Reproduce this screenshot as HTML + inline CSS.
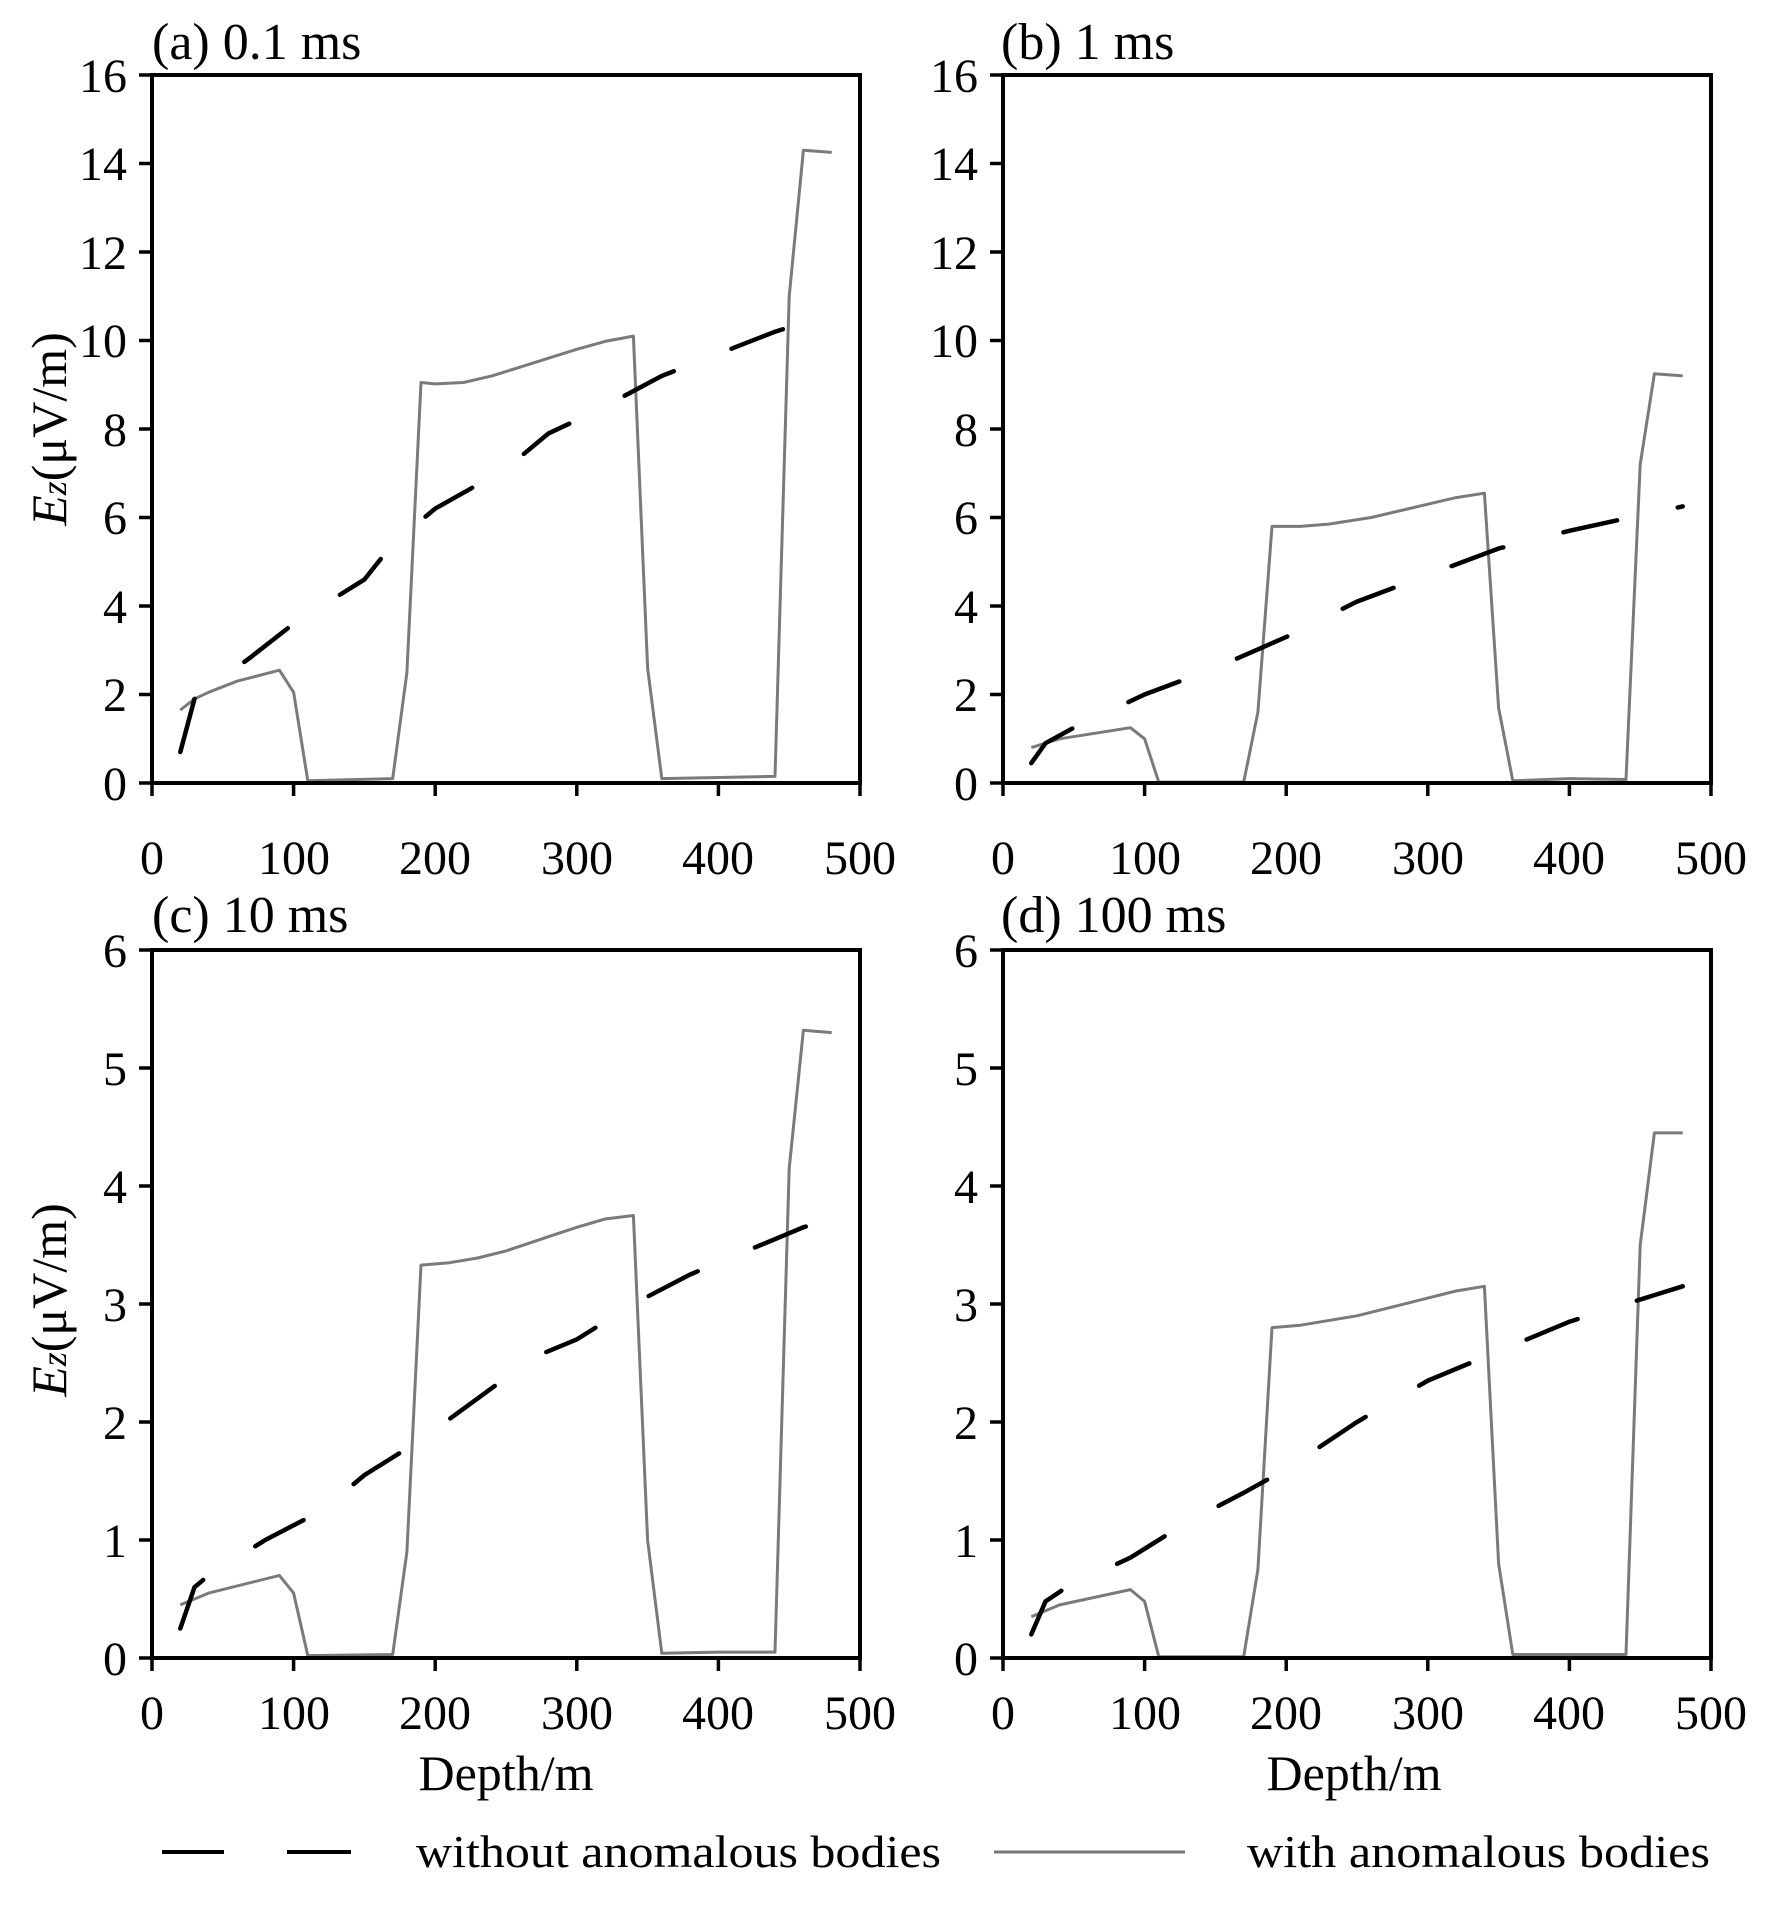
<!DOCTYPE html>
<html><head><meta charset="utf-8"><style>
html,body{margin:0;padding:0;background:#fff;}
svg{display:block;}
text{font-family:"Liberation Serif",serif;fill:#000;}
</style></head><body>
<svg id="s" width="1768" height="1910" viewBox="0 0 1768 1910" xmlns="http://www.w3.org/2000/svg">
<g font-size="52">
<text x="152" y="59">(a) 0.1 ms</text>
<text x="1001" y="59">(b) 1 ms</text>
<text x="152" y="932">(c) 10 ms</text>
<text x="1001" y="932">(d) 100 ms</text>
</g>
<g font-size="48" text-anchor="end">
<text x="127" y="800">0</text><text x="127" y="711">2</text><text x="127" y="623">4</text><text x="127" y="534">6</text><text x="127" y="446">8</text><text x="127" y="357">10</text><text x="127" y="269">12</text><text x="127" y="180">14</text><text x="127" y="92">16</text>
<text x="978" y="800">0</text><text x="978" y="711">2</text><text x="978" y="623">4</text><text x="978" y="534">6</text><text x="978" y="446">8</text><text x="978" y="357">10</text><text x="978" y="269">12</text><text x="978" y="180">14</text><text x="978" y="92">16</text>
<text x="127" y="1675">0</text><text x="127" y="1557">1</text><text x="127" y="1439">2</text><text x="127" y="1321">3</text><text x="127" y="1203">4</text><text x="127" y="1085">5</text><text x="127" y="967">6</text>
<text x="978" y="1675">0</text><text x="978" y="1557">1</text><text x="978" y="1439">2</text><text x="978" y="1321">3</text><text x="978" y="1203">4</text><text x="978" y="1085">5</text><text x="978" y="967">6</text>
</g>
<g font-size="48" text-anchor="middle">
<text x="152" y="874">0</text><text x="294" y="874">100</text><text x="435" y="874">200</text><text x="577" y="874">300</text><text x="718" y="874">400</text><text x="860" y="874">500</text>
<text x="1003" y="874">0</text><text x="1145" y="874">100</text><text x="1286" y="874">200</text><text x="1428" y="874">300</text><text x="1569" y="874">400</text><text x="1711" y="874">500</text>
<text x="152" y="1729">0</text><text x="294" y="1729">100</text><text x="435" y="1729">200</text><text x="577" y="1729">300</text><text x="718" y="1729">400</text><text x="860" y="1729">500</text>
<text x="1003" y="1729">0</text><text x="1145" y="1729">100</text><text x="1286" y="1729">200</text><text x="1428" y="1729">300</text><text x="1569" y="1729">400</text><text x="1711" y="1729">500</text>
</g>
<g font-size="50" text-anchor="middle">
<text x="506" y="1790">Depth/m</text>
<text x="1354" y="1790">Depth/m</text>
<text transform="translate(66,429) rotate(-90)"><tspan font-style="italic">E</tspan><tspan font-style="italic" font-size="36">z</tspan>(μV/m)</text>
<text transform="translate(66,1300) rotate(-90)"><tspan font-style="italic">E</tspan><tspan font-style="italic" font-size="36">z</tspan>(μV/m)</text>
</g>
<g font-size="46">
<text x="416" y="1867" textLength="525" lengthAdjust="spacingAndGlyphs">without anomalous bodies</text>
<text x="1247" y="1867" textLength="463" lengthAdjust="spacingAndGlyphs">with anomalous bodies</text>
</g>
<line x1="162" y1="1852" x2="224" y2="1852" stroke="#000" stroke-width="4"/>
<line x1="287" y1="1852" x2="351" y2="1852" stroke="#000" stroke-width="4"/>
<line x1="994" y1="1852" x2="1185" y2="1852" stroke="#777" stroke-width="3"/>
<g id="plots"></g>
</svg>
<script>
var P=[
 {x:152,y:75,max:16,
  g:[[20,1.65],[30,1.9],[40,2.05],[60,2.3],[90,2.55],[100,2.05],[110,0.05],[170,0.1],[180,2.5],[190,9.05],[200,9.02],[220,9.05],[240,9.2],[260,9.4],[280,9.6],[300,9.8],[320,9.98],[340,10.1],[350,2.6],[360,0.1],[440,0.15],[450,11],[460,14.3],[480,14.25]],
  b:[[20,0.7],[30,1.9],[70,2.85],[100,3.6],[150,4.6],[170,5.4],[200,6.2],[250,7.1],[280,7.9],[300,8.2],[325,8.6],[360,9.2],[400,9.7],[440,10.2],[480,10.6]]},
 {x:1003,y:75,max:16,
  g:[[20,0.8],[40,1.0],[90,1.25],[100,1.0],[110,0.02],[170,0.02],[180,1.6],[190,5.8],[210,5.8],[230,5.85],[260,6.0],[300,6.3],[320,6.45],[340,6.55],[350,1.7],[360,0.05],[400,0.1],[440,0.08],[450,7.2],[460,9.25],[480,9.2]],
  b:[[20,0.45],[30,0.9],[50,1.25],[100,2.0],[150,2.6],[200,3.3],[250,4.1],[300,4.7],[350,5.3],[400,5.7],[450,6.05],[480,6.25]]},
 {x:152,y:950,max:6,
  g:[[20,0.45],[40,0.55],[90,0.7],[100,0.55],[110,0.02],[170,0.03],[180,0.9],[190,3.33],[210,3.35],[230,3.39],[250,3.45],[280,3.57],[300,3.65],[320,3.72],[340,3.75],[350,1.0],[360,0.04],[400,0.05],[440,0.05],[450,4.15],[460,5.32],[480,5.3]],
  b:[[20,0.25],[30,0.6],[40,0.7],[80,1.0],[120,1.25],[150,1.55],[190,1.85],[230,2.2],[270,2.55],[300,2.7],[340,3.0],[380,3.25],[420,3.45],[460,3.65],[480,3.72]]},
 {x:1003,y:950,max:6,
  g:[[20,0.35],[40,0.45],[90,0.58],[100,0.48],[110,0.01],[170,0.01],[180,0.75],[190,2.8],[210,2.82],[250,2.9],[280,2.99],[300,3.05],[320,3.11],[340,3.15],[350,0.8],[360,0.03],[440,0.03],[450,3.5],[460,4.45],[480,4.45]],
  b:[[20,0.2],[30,0.48],[45,0.6],[90,0.85],[130,1.15],[170,1.4],[200,1.6],[250,2.0],[300,2.35],[350,2.6],[400,2.85],[440,3.0],[480,3.15]]}
];
var W=708,H=708,h='';
P.forEach(function(p){
 function pt(a){return (p.x+a[0]/500*W).toFixed(1)+','+(p.y+H-a[1]/p.max*H).toFixed(1);}
 h+='<polyline fill="none" stroke="#7a7a7a" stroke-width="3" stroke-linejoin="round" points="'+p.g.map(pt).join(' ')+'"/>';
 h+='<polyline fill="none" stroke="#000" stroke-width="4.5" stroke-linecap="round" stroke-dasharray="55 62" points="'+p.b.map(pt).join(' ')+'"/>';
 h+='<rect x="'+p.x+'" y="'+p.y+'" width="'+W+'" height="'+H+'" fill="none" stroke="#000" stroke-width="4"/>';
 var n=p.max==16?8:6;
 for(var k=0;k<=n;k++){var yy=p.y+H-k*H/n;h+='<line x1="'+(p.x-13)+'" y1="'+yy+'" x2="'+p.x+'" y2="'+yy+'" stroke="#000" stroke-width="3.5"/>';}
 for(var k=0;k<=5;k++){var xx=p.x+k*W/5;h+='<line x1="'+xx+'" y1="'+(p.y+H)+'" x2="'+xx+'" y2="'+(p.y+H+13)+'" stroke="#000" stroke-width="3.5"/>';}
});
document.getElementById('plots').innerHTML=h;
</script>
</body></html>
